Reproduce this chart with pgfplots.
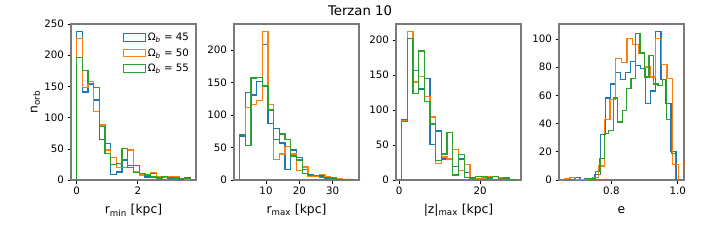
\documentclass[border=0pt]{standalone}
\usepackage{fontspec}
\setmainfont{DejaVu Sans}
\usepackage{pgfplots}
\pgfplotsset{compat=1.18}
\definecolor{c0}{HTML}{1F77B4}
\definecolor{c1}{HTML}{FF7F0E}
\definecolor{c2}{HTML}{2CA02C}
\definecolor{spine}{HTML}{7A7A7A}
\pgfplotsset{
  hpanel/.style={
    scale only axis, width=125bp, height=156bp, anchor=south west,
    ymin=0,
    axis line style={draw=spine, line width=1.3bp},
    tick align=outside, tick pos=left, major tick length=3.5bp,
    tick style={black, line width=0.6bp},
    ticklabel style={font=\fontsize{10.3}{12}\selectfont},
    label style={font=\fontsize{12.4}{14}\selectfont},
    /pgf/number format/assume math mode=true,
    xlabel style={at={(axis description cs:0.5,-0.195)}, anchor=center},
    clip=true,
  },
  h0/.style={draw=c0, const plot, line width=1.3bp},
  h1/.style={draw=c1, const plot, line width=1.3bp},
  h2/.style={draw=c2, const plot, line width=1.3bp},
}
\begin{document}
\begin{tikzpicture}
\path[use as bounding box] (0,0) rectangle (720bp,240bp);
\node at (360bp,229.5bp) {\fontsize{13.3}{15}\selectfont Terzan 10};

% ---------- panel 1: r_min ----------
\begin{axis}[hpanel, at={(71bp,60bp)},
  xmin=-0.186, xmax=3.906, ymax=250,
  xtick={0,2}, ytick={0,50,100,150,200,250},
  xlabel={r\textsubscript{min} [kpc]},
  ylabel={n\textsubscript{orb}},
  ylabel style={at={(axis description cs:-0.285,0.5)}, anchor=center},
  legend style={draw=none, fill=none, at={(axis description cs:0.985,0.97)}, anchor=north east,
    font=\fontsize{10.3}{12}\selectfont, row sep=2.5bp},
  legend cell align=left,
  legend image code/.code={\draw[#1, line width=1.3bp] (0bp,-3.8bp) rectangle (22bp,3.8bp);},
]
\addplot[h0] coordinates {(0,0) (0,238) (0.186,141) (0.372,154) (0.558,128) (0.744,65) (0.930,59) (1.116,9) (1.302,13) (1.488,32) (1.674,23) (1.860,23) (2.046,10) (2.232,5) (2.418,10) (2.604,3) (2.790,5) (2.976,2) (3.162,2) (3.348,1) (3.534,3) (3.720,0)};
\addlegendentry{Ω\textsubscript{\textit{b}} = 45}
\addplot[h1] coordinates {(0,0) (0,227) (0.186,148) (0.372,158) (0.558,110) (0.744,88) (0.930,48) (1.116,36) (1.302,20) (1.488,20) (1.674,48) (1.860,13) (2.046,8) (2.232,8) (2.418,12) (2.604,5) (2.790,4) (2.976,5) (3.162,5) (3.348,2) (3.534,1) (3.720,0)};
\addlegendentry{Ω\textsubscript{\textit{b}} = 50}
\addplot[h2] coordinates {(0,0) (0,196) (0.186,175) (0.372,155) (0.558,148) (0.744,86) (0.930,43) (1.116,25) (1.302,27) (1.488,50) (1.674,20) (1.860,12) (2.046,10) (2.232,8) (2.418,5) (2.604,3) (2.790,6) (2.976,4) (3.162,3) (3.348,2) (3.534,2) (3.720,0)};
\addlegendentry{Ω\textsubscript{\textit{b}} = 55}
\end{axis}

% ---------- panel 2: r_max ----------
\begin{axis}[hpanel, at={(234bp,60bp)},
  xmin=0.4, xmax=37.9, ymax=240.4,
  xtick={10,20,30}, ytick={0,50,100,150,200},
  xlabel={r\textsubscript{max} [kpc]},
]
\addplot[h0] coordinates {(2.1,0) (2.1,68) (3.805,135) (5.51,131) (7.215,152) (8.92,209) (10.625,87) (12.33,79) (14.035,57) (15.74,16) (17.445,46) (19.15,35) (20.855,16) (22.56,8) (24.265,5) (25.97,6) (27.675,2) (29.38,2) (31.085,1) (32.79,1) (34.495,1) (36.2,0)};
\addplot[h1] coordinates {(2.1,0) (2.1,70) (3.805,112) (5.51,116) (7.215,123) (8.92,229) (10.625,116) (12.33,32) (14.035,40) (15.74,52) (17.445,40) (19.15,15) (20.855,20) (22.56,5) (24.265,5) (25.97,8) (27.675,5) (29.38,2) (31.085,2) (32.79,1) (34.495,1) (36.2,0)};
\addplot[h2] coordinates {(2.1,0) (2.1,70) (3.805,53) (5.51,157) (7.215,158) (8.92,145) (10.625,108) (12.33,62) (14.035,71) (15.74,62) (17.445,37) (19.15,31) (20.855,10) (22.56,7) (24.265,7) (25.97,4) (27.675,4) (29.38,3) (31.085,1) (32.79,1) (34.495,1) (36.2,0)};
\end{axis}

% ---------- panel 3: |z|_max ----------
\begin{axis}[hpanel, at={(396bp,60bp)},
  xmin=-0.8, xmax=30.1, ymax=222.6,
  xtick={0,20}, ytick={0,50,100,150,200},
  xlabel={|z|\textsubscript{max} [kpc]},
]
\addplot[h0] coordinates {(0.6,0) (0.6,86) (2.005,212) (3.41,156) (4.815,130) (6.22,145) (7.625,51) (9.03,70) (10.435,30) (11.84,31) (13.245,19) (14.65,30) (16.055,11) (17.46,3) (18.865,2) (20.27,3) (21.675,2) (23.08,5) (24.485,3) (25.89,2) (27.295,1) (28.7,0)};
\addplot[h1] coordinates {(0.6,0) (0.6,84) (2.005,212) (3.41,140) (4.815,148) (6.22,119) (7.625,90) (9.03,24) (10.435,33) (11.84,30) (13.245,44) (14.65,14) (16.055,22) (17.46,2) (18.865,2) (20.27,3) (21.675,5) (23.08,5) (24.485,3) (25.89,3) (27.295,1) (28.7,0)};
\addplot[h2] coordinates {(0.6,0) (0.6,83) (2.005,202) (3.41,123) (4.815,184) (6.22,112) (7.625,80) (9.03,28) (10.435,37) (11.84,68) (13.245,7) (14.65,36) (16.055,4) (17.46,2) (18.865,5) (20.27,5) (21.675,3) (23.08,5) (24.485,2) (25.89,3) (27.295,1) (28.7,0)};
\end{axis}

% ---------- panel 4: e ----------
\begin{axis}[hpanel, at={(559bp,60bp)},
  xmin=0.642, xmax=1.019, ymax=110.5,
  xtick={0.8,1.0}, xticklabels={0.8,1.0}, ytick={0,20,40,60,80,100},
  xlabel={e},
]
\addplot[h0] coordinates {(0.69,0) (0.69,2) (0.70525,0) (0.7205,1) (0.73575,1) (0.751,4) (0.76625,32) (0.7815,58) (0.79675,68) (0.812,76) (0.82725,71) (0.8425,76) (0.85775,84) (0.873,81) (0.88825,79) (0.9035,54) (0.91875,63) (0.934,105) (0.94925,71) (0.9645,54) (0.97975,20) (0.995,0)};
\addplot[h1] coordinates {(0.658,0) (0.658,1) (0.6752,2) (0.6924,0) (0.7096,0) (0.7268,1) (0.744,2) (0.7612,10) (0.7784,43) (0.7956,57) (0.8128,86) (0.83,83) (0.8472,100) (0.8644,96) (0.8816,90) (0.8988,80) (0.916,73) (0.9332,100) (0.9504,82) (0.9676,72) (0.9848,11) (1.002,0)};
\addplot[h2] coordinates {(0.725,0) (0.725,1) (0.73845,1) (0.7519,6) (0.76535,15) (0.7788,33) (0.79225,35) (0.8057,58) (0.81915,41) (0.8326,49) (0.84605,65) (0.8595,72) (0.87295,104) (0.8864,90) (0.89985,73) (0.9133,88) (0.92675,68) (0.9402,67) (0.95365,71) (0.9671,43) (0.98055,19) (0.994,0)};
\end{axis}
\end{tikzpicture}
\end{document}
